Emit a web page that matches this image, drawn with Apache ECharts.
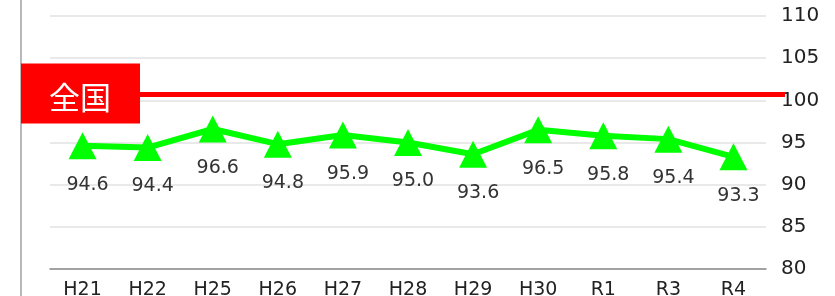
<!DOCTYPE html>
<html>
<head>
<meta charset="utf-8">
<script src="https://cdn.jsdelivr.net/npm/echarts@6/dist/echarts.min.js"></script>
<style>
  html, body { margin: 0; padding: 0; background: #fff; }
  #chart { width: 835px; height: 296px; }
</style>
</head>
<body>
<div id="chart"></div>
<script>
var categories = ["H21", "H22", "H25", "H26", "H27", "H28", "H29", "H30", "R1", "R3", "R4"];
var values = [94.6, 94.4, 96.6, 94.8, 95.9, 95.0, 93.6, 96.5, 95.8, 95.4, 93.3];
var nationalValue = 100.7;
var nationalLabel = "全国";
var yTicks = [80, 85, 90, 95, 100, 105, 110];

var chartDom = document.getElementById("chart");
var myChart = echarts.init(chartDom);
var font = "DejaVu Sans";

var option = {
  animation: false,
  grid: { left: 50, right: 69, top: 16, bottom: 27, outerBoundsMode: "none", containLabel: false },
  xAxis: {
    type: "category",
    data: categories,
    boundaryGap: true,
    axisLine: { lineStyle: { color: "#8c8c8c", width: 1.5 } },
    axisTick: { show: false },
    axisLabel: { color: "#222", fontFamily: font, fontSize: 19, margin: 12 }
  },
  yAxis: {
    type: "value",
    position: "right",
    min: yTicks[0],
    max: yTicks[yTicks.length - 1],
    interval: 5,
    axisLine: { show: false },
    axisTick: { show: false },
    axisLabel: { color: "#222", fontFamily: font, fontSize: 20, margin: 15 },
    splitLine: { lineStyle: { color: "#e2e2e2", width: 1.5 } }
  },
  series: [
    {
      type: "line",
      data: values,
      symbol: "triangle",
      symbolSize: [28, 27],
      lineStyle: { color: "#00ff00", width: 6 },
      itemStyle: { color: "#00ff00" },
      label: {
        show: true,
        position: "bottom",
        distance: 16,
        offset: [5, 0],
        color: "#333",
        fontFamily: font,
        fontSize: 19,
        formatter: function (p) { return p.value.toFixed(1); }
      },
      z: 3
    }
  ]
};

myChart.setOption(option);

// national reference line and its label box, placed through the y scale
var yNat = myChart.convertToPixel({ yAxisIndex: 0 }, nationalValue);
myChart.setOption({
  graphic: [
    {
      type: "line",
      shape: { x1: 21, y1: 0, x2: 21, y2: 296 },
      style: { stroke: "#a0a0a0", lineWidth: 1.5 }
    },
    {
      type: "line",
      shape: { x1: 140, y1: yNat, x2: 785, y2: yNat },
      style: { stroke: "#ff0000", lineWidth: 5 },
      z: 5
    },
    {
      type: "rect",
      shape: { x: 21, y: yNat - 31, width: 119, height: 60 },
      style: { fill: "#ff0000" },
      z: 5
    },
    {
      type: "text",
      x: 80,
      y: yNat + 3,
      style: {
        text: nationalLabel,
        fill: "#fff",
        fontFamily: "Noto Sans CJK JP",
        fontSize: 31,
        fontWeight: "normal",
        align: "center",
        verticalAlign: "middle"
      },
      z: 6
    }
  ]
});
</script>
</body>
</html>
